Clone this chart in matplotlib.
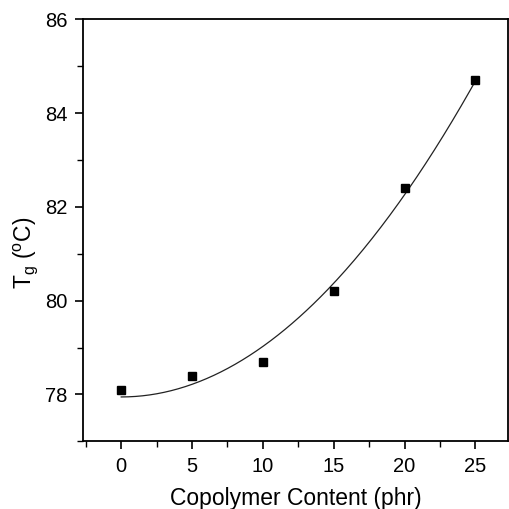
import numpy as np
import matplotlib
matplotlib.use('Agg')
import matplotlib.pyplot as plt
from matplotlib.ticker import MultipleLocator

plt.rcParams['font.family'] = ['Liberation Sans', 'DejaVu Sans']
plt.rcParams['mathtext.fontset'] = 'custom'
plt.rcParams['mathtext.rm'] = 'Liberation Sans'

# copolymer content (phr) and glass transition temperature (C)
content = [0, 5, 10, 15, 20, 25]
tg = [78.1, 78.4, 78.7, 80.2, 82.4, 84.7]

x_ticks = [0, 5, 10, 15, 20, 25]
y_ticks = [78, 80, 82, 84, 86]

# fit Tg = a + b*x^2 through the points
x2 = np.array(content, dtype=float) ** 2
b, a = np.polyfit(x2, tg, 1)
xf = np.linspace(0, 25, 200)
yf = a + b * xf ** 2

fig = plt.figure(figsize=(5.09, 5.09), dpi=100)
ax = fig.add_axes([0.163, 0.133, 0.835, 0.829])

ax.plot(xf, yf, color='#222222', lw=0.9)
ax.plot(content, tg, 's', color='black', markersize=6)

ax.set_xlim(-2.7, 27.3)
ax.set_ylim(77, 86)
ax.set_xticks(x_ticks)
ax.set_yticks(y_ticks)
ax.xaxis.set_minor_locator(MultipleLocator(2.5))
ax.yaxis.set_minor_locator(MultipleLocator(1))
ax.tick_params(which='major', direction='out', length=6, width=1.2, labelsize=14.5, pad=5)
ax.tick_params(which='minor', direction='out', length=4, width=1.0)
ax.tick_params(top=False, right=False)
for s in ax.spines.values():
    s.set_linewidth(1.3)

ax.set_xlabel('Copolymer Content (phr)', fontsize=16.5, labelpad=8)
ax.set_ylabel(r'T$_\mathrm{g}$ ($^\mathrm{o}$C)', fontsize=16.5)
ax.yaxis.set_label_coords(-0.1, 0.447)

fig.savefig('out.png', dpi=100)
